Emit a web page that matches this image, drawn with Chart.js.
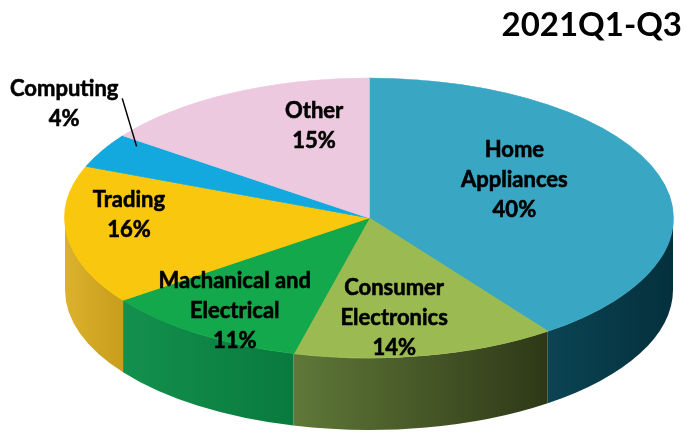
<!DOCTYPE html>
<html>
<head>
<meta charset="utf-8">
<script src="https://cdn.jsdelivr.net/npm/chart.js@4.4.1/dist/chart.umd.min.js"></script>
<style>
  html, body { margin: 0; padding: 0; background: #fff; }
  #wrap { width: 687px; height: 438px; }
</style>
</head>
<body>
<div id="wrap"><canvas id="myChart" width="687" height="438"></canvas></div>
<script>
const categories = ["Home Appliances", "Consumer Electronics", "Machanical and Electrical", "Trading", "Computing", "Other"];
const shares = [40, 14, 11, 16, 4, 15];
const titleText = "2021Q1-Q3";
const labelLines = [
  ["Home", "Appliances"],
  ["Consumer", "Electronics"],
  ["Machanical and", "Electrical"],
  ["Trading"],
  ["Computing"],
  ["Other"]
];

// colours: top face, and the side wall (light left -> dark right)
const topColors = ["#39a7c4", "#9bbb52", "#12a84b", "#f9c80e", "#13a9df", "#edc9e0"];
const wallLight = ["#0b4453", "#5f7838", "#14904d", "#dcb12c", "#0e7fa8", "#b896ab"];
const wallDark = ["#04303c", "#2e3817", "#087a3d", "#c99d1d", "#0a6486", "#a07f94"];

// ellipse of the top face + depth of the wall (px)
const CX = 369, CY = 218, RX = 304, RY = 140, DEPTH = 72;

// where the labels sit: angle shift (deg) from slice middle, radial fraction
const labelPlace = [
  { shift: -11.6, r: 0.55 },
  { shift: 4.2, r: 0.72 },
  { shift: -0.7, r: 0.80 },
  { shift: 8.7, r: 0.79 },
  { shift: 10.2, r: 1.29 },
  { shift: 11.6, r: 0.68 }
];
const LABEL_FONT = "bold 22px Lato";
const LINE_H = 30;

const rad = d => d * Math.PI / 180;

// side walls + squash the pie into an ellipse
const pie3d = {
  id: "pie3d",
  beforeDatasetsDraw(chart) {
    const ctx = chart.ctx;
    const arcs = chart.getDatasetMeta(0).data;
    if (!arcs.length) return;

    arcs.forEach((arc, i) => {
      const a1 = Math.max(arc.startAngle, 0);
      const a2 = Math.min(arc.endAngle, Math.PI);
      if (a2 <= a1) return;
      const xr = CX + RX * Math.cos(a1);
      const xl = CX + RX * Math.cos(a2);
      const g = ctx.createLinearGradient(xl, 0, xr, 0);
      g.addColorStop(0, wallLight[i]);
      g.addColorStop(1, wallDark[i]);
      ctx.save();
      ctx.beginPath();
      ctx.ellipse(CX, CY, RX, RY, 0, a1, a2, false);
      ctx.lineTo(CX + RX * Math.cos(a2), CY + DEPTH + RY * Math.sin(a2));
      ctx.ellipse(CX, CY + DEPTH, RX, RY, 0, a2, a1, true);
      ctx.closePath();
      ctx.fillStyle = g;
      ctx.fill();
      ctx.restore();
    });

    const a0 = arcs[0];
    const R = a0.outerRadius;
    ctx.save();
    ctx.translate(CX, CY);
    ctx.scale(RX / R, RY / R);
    ctx.translate(-a0.x, -a0.y);
  },
  afterDatasetsDraw(chart) {
    chart.ctx.restore();
  },
  afterDraw(chart) {
    const ctx = chart.ctx;
    const arcs = chart.getDatasetMeta(0).data;
    ctx.save();
    ctx.font = LABEL_FONT;
    ctx.fillStyle = "#000";
    ctx.strokeStyle = "#000";
    ctx.lineWidth = 0.6;
    ctx.textAlign = "center";
    ctx.textBaseline = "middle";
    arcs.forEach((arc, i) => {
      const mid = (arc.startAngle + arc.endAngle) / 2 + rad(labelPlace[i].shift);
      const x = CX + RX * labelPlace[i].r * Math.cos(mid);
      const y = CY + RY * labelPlace[i].r * Math.sin(mid);
      const lines = labelLines[i].concat([shares[i] + "%"]);
      const top = y - (lines.length - 1) * LINE_H / 2;
      lines.forEach((t, k) => {
        ctx.fillText(t, x, top + k * LINE_H);
        ctx.strokeText(t, x, top + k * LINE_H);
      });
      if (labelPlace[i].r > 1) {
        // leader line into the slice
        const m2 = (arc.startAngle + arc.endAngle) / 2 + rad(5);
        ctx.beginPath();
        ctx.lineWidth = 1.5;
        ctx.moveTo(x + 58, y - 6);
        ctx.lineTo(CX + RX * 0.92 * Math.cos(m2), CY + RY * 0.92 * Math.sin(m2));
        ctx.stroke();
        ctx.lineWidth = 0.6;
      }
    });
    ctx.restore();
  }
};

const ctx = document.getElementById("myChart").getContext("2d");
new Chart(ctx, {
  type: "pie",
  data: {
    labels: categories,
    datasets: [{
      data: shares,
      backgroundColor: topColors,
      borderColor: topColors,
      borderWidth: 1
    }]
  },
  options: {
    responsive: false,
    animation: false,
    events: [],
    layout: { padding: { top: 0, right: 5, bottom: 0, left: 0 } },
    plugins: {
      legend: { display: false },
      tooltip: { enabled: false },
      title: {
        display: true,
        text: titleText,
        align: "end",
        color: "#000",
        font: { family: "Lato", size: 33, weight: "bold" },
        padding: { top: 6, bottom: 0 }
      }
    }
  },
  plugins: [pie3d]
});
</script>
</body>
</html>
